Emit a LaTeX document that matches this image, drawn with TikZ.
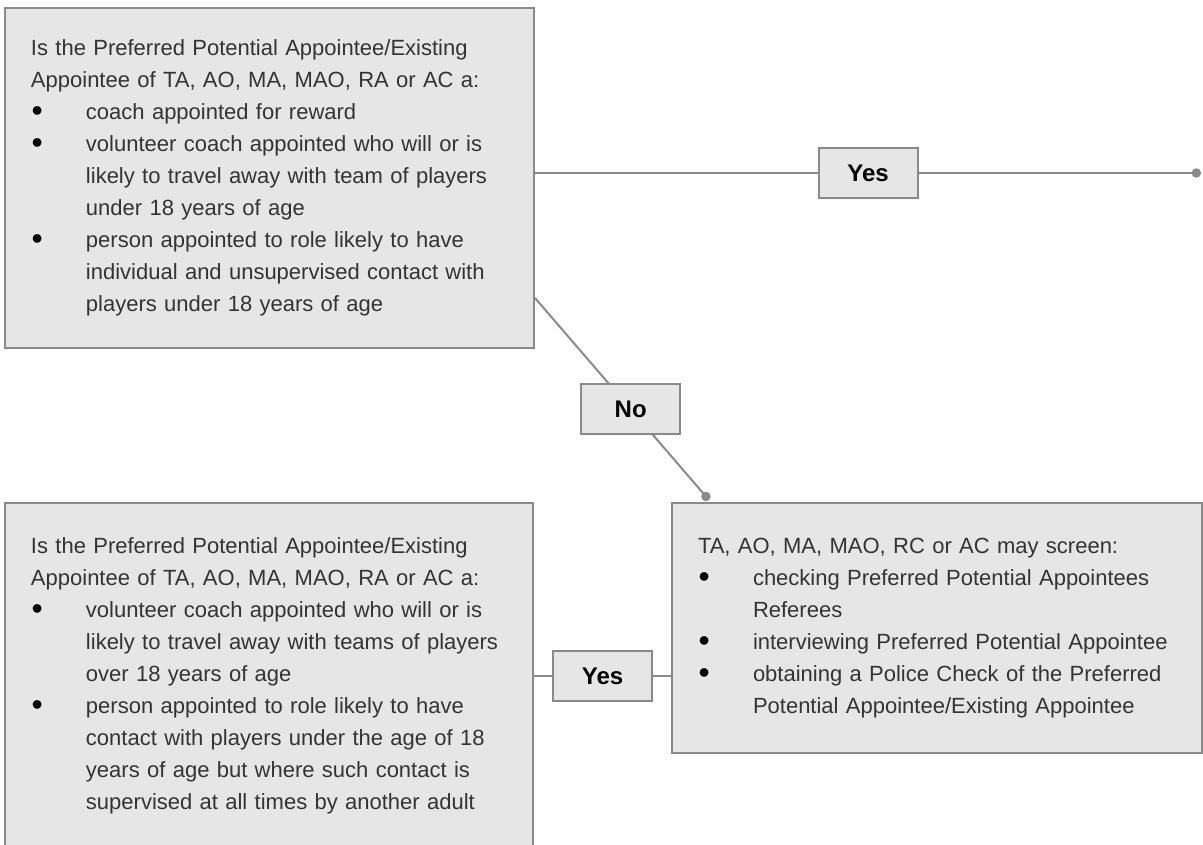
\documentclass[tikz,border=0pt]{standalone}
\usepackage{fontspec}
\setmainfont{Liberation Sans}
\usepackage{xcolor}
\usepackage{graphicx}
\usepackage{tikz}
\usetikzlibrary{arrows.meta,calc}

\definecolor{boxfill}{HTML}{E6E6E6}
\definecolor{boxline}{HTML}{8A8A8A}
\definecolor{bodytext}{HTML}{333333}

% bullet line with hanging indent (break lines inside with \newline)
\newcommand{\bul}{\par\hangindent=41.25pt\hangafter=1\noindent
  \makebox[41.25pt][l]{\hspace{0.5pt}\raisebox{-1.6pt}{\textcolor{black}{\scalebox{1.45}{\textbullet}}}}}

\begin{document}
\begin{tikzpicture}[
  x=0.75pt,y=-0.75pt,
  link/.style={draw=boxline,line width=1.5pt},
  dotend/.style={-{Circle[length=7pt,width=7pt]}},
  qbox/.style={draw=boxline,line width=1.5pt,fill=boxfill,text=bodytext,
    inner xsep=19.5pt,inner ysep=0pt,align=left},
  ansbox/.style={draw=boxline,line width=1.5pt,fill=boxfill,text=black,
    minimum width=74.25pt,minimum height=37.5pt,inner sep=0pt,
    font=\fontsize{18}{20}\selectfont\bfseries},
  every node/.style={font=\fontsize{16.5}{24}\selectfont}
]
  \useasboundingbox (0,0) rectangle (1203,845);

  \node[qbox,text width=357.75pt,minimum width=396.75pt,
    minimum height=255pt] (q1) at (269.5,178)
    {Is the Preferred Potential Appointee/Existing\newline
     Appointee of TA, AO, MA, MAO, RA or AC a:
     \bul coach appointed for reward
     \bul volunteer coach appointed who will or is\newline
       likely to travel away with team of players\newline
       under 18 years of age
     \bul person appointed to role likely to have\newline
       individual and unsupervised contact with\newline
       players under 18 years of age\par};
  \node[qbox,text width=357pt,minimum width=396pt,
    minimum height=259.5pt] (q2) at (269,676)
    {Is the Preferred Potential Appointee/Existing\newline
     Appointee of TA, AO, MA, MAO, RA or AC a:
     \bul volunteer coach appointed who will or is\newline
       likely to travel away with teams of players\newline
       over 18 years of age
     \bul person appointed to role likely to have\newline
       contact with players under the age of 18\newline
       years of age but where such contact is\newline
       supervised at all times by another adult\par};
  \node[qbox,text width=358.5pt,minimum width=397.5pt,
    minimum height=187.5pt] (screen) at (937,628)
    {TA, AO, MA, MAO, RC or AC may screen:
     \bul checking Preferred Potential Appointees\newline
       Referees
     \bul interviewing Preferred Potential Appointee
     \bul obtaining a Police Check of the Preferred\newline
       Potential Appointee/Existing Appointee\par};

  \coordinate (yesend) at (1201,173);
  \coordinate (noend) at (709,500);

  \draw[link,dotend] ($(q1.east)+(0,-5)$) -- node[ansbox] (yes1) {Yes} (yesend);
  \draw[link,dotend] ($(q1.east)+(0,120)$) -- node[ansbox,pos=0.55] (no) {No} (noend);
  \draw[link] (q2.east) -- node[ansbox] (yes2) {Yes} (screen.west |- q2.east);
\end{tikzpicture}
\end{document}
